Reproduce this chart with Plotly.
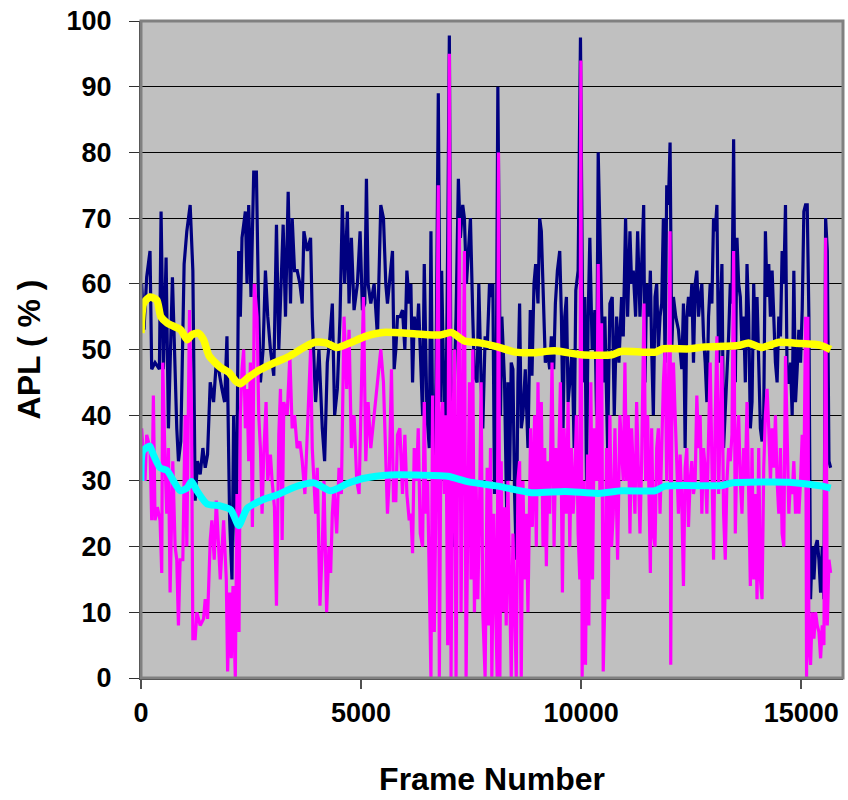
import plotly.graph_objects as go

# ---------------- data ----------------
navy_x = [0, 15, 68, 129, 205, 243, 319, 418, 456, 509, 570, 623, 714, 775, 813, 851, 904, 980, 1041, 1117,
          1178, 1231, 1284, 1345, 1406, 1459, 1512, 1573, 1649, 1710, 1763, 1839, 1900, 1953, 2014, 2067, 2105,
          2166, 2219, 2257, 2295, 2371, 2409, 2447, 2500, 2561, 2622, 2675, 2713, 2774, 2827, 2880, 2941, 3017,
          3078, 3131, 3230, 3283, 3344, 3397, 3435, 3488, 3549, 3610, 3663, 3701, 3777, 3853, 3891, 3967, 4043,
          4119, 4172, 4233, 4294, 4347, 4400, 4461, 4522, 4575, 4628, 4689, 4727, 4780, 4841, 4917, 4978, 5031,
          5084, 5122, 5160, 5221, 5297, 5373,
          5448, 5509, 5562, 5600, 5676, 5714, 5752, 5790, 5828, 5889, 5942, 5995, 6041, 6094, 6132, 6170, 6208,
          6269, 6307, 6360, 6398, 6436, 6497, 6550, 6588, 6626, 6664, 6702, 6755, 6801, 6831, 6892, 6930, 6968,
          7006, 7044, 7082, 7120, 7158, 7211, 7257, 7310, 7348, 7394, 7439, 7485, 7538, 7576, 7637, 7675, 7728,
          7766, 7819, 7865, 7918, 7956, 7994, 8032, 8070, 8108, 8169, 8199, 8260, 8313, 8336, 8374, 8412, 8450,
          8488, 8526, 8564, 8602, 8640, 8678, 8731, 8792, 8845, 8883, 8929, 8967, 9020, 9058, 9096, 9149, 9187,
          9233, 9286, 9324, 9377, 9415, 9461, 9514, 9552, 9590, 9628, 9666, 9704, 9742, 9795, 9841, 9879, 9932,
          9985, 10046, 10084, 10122, 10160, 10198, 10251, 10312, 10350, 10388, 10426, 10464, 10502, 10540, 10601,
          10654, 10707, 10753, 10806, 10859,
          10919, 10957, 11010, 11056, 11109, 11147, 11185, 11238, 11284, 11337, 11390, 11421, 11451, 11489, 11542,
          11573, 11603, 11641, 11679, 11717, 11755, 11793, 11831, 11869, 11907, 11945, 11983, 12021, 12059, 12097,
          12150, 12211, 12249, 12287, 12325, 12363, 12401, 12439, 12477, 12515, 12553, 12591, 12629, 12667, 12705,
          12743, 12781, 12819, 12857, 12895, 12933, 12971, 13009, 13047, 13085, 13123, 13161, 13199, 13237, 13275,
          13313, 13351, 13389, 13427, 13465, 13503, 13541, 13579, 13617, 13655, 13693, 13731, 13769, 13807, 13845,
          13883, 13921, 13959, 13997, 14035, 14073, 14111, 14149, 14187, 14225, 14263, 14301, 14339, 14377, 14415,
          14453, 14491, 14529, 14567, 14605, 14643, 14681, 14719, 14757, 14795, 14833, 14871, 14909, 14947, 14985,
          15023, 15061, 15099, 15137, 15175, 15213, 15251, 15289, 15327, 15365, 15403, 15441, 15479, 15517, 15555,
          15593, 15631, 15669]
navy_y = [55, 60, 53, 61, 65, 47, 48, 47, 71, 47, 64, 38, 61, 45, 38, 33, 36, 63, 68, 72,
          62, 27, 33, 31, 35, 32, 34, 45, 42, 48, 47, 44, 42, 52, 24, 15, 40,
          20, 65, 55, 67, 71, 60, 72, 58, 77, 77, 55, 45, 50, 62, 55, 50, 46,
          69, 50, 69, 55, 74, 57, 70, 62, 62, 60, 57, 68, 65, 67, 55, 42, 50,
          38, 33, 48, 52, 57, 40, 44, 55, 72, 60, 71, 57, 67, 56, 60, 68, 56,
          57, 76, 60, 57, 60, 52,
          72, 70, 60, 57, 62, 65, 47, 50, 55, 55, 56, 50, 62, 57, 60, 45, 55,
          52, 57, 45, 40, 63, 40, 35, 68, 38, 32, 45, 89, 42, 62, 40, 40, 66,
          97.8, 40, 20, 45, 55, 76, 67, 72, 70, 60, 65, 70, 55, 46, 45, 60, 45,
          38, 52, 50, 60, 58, 60, 28, 42, 90, 40, 55, 45, 23, 45, 30, 48, 47,
          28, 18, 45, 57, 38, 40, 47, 35, 56, 46, 60, 63, 57, 70, 68, 55, 48,
          50, 47, 52, 47, 57, 62, 65, 55, 38, 55, 58, 42, 45, 50, 35, 59, 62,
          97.5, 45, 58, 30, 55, 67, 50, 56, 40, 80, 67, 55, 45, 55, 35,
          57, 58, 40, 55, 48,
          58, 52, 70, 55, 68, 60, 62, 55, 68, 55, 67, 72, 45, 60, 55,
          62, 50, 40, 58, 60, 50, 55, 57, 70, 48, 75, 72, 81.5, 50, 58,
          55, 53, 50, 47, 57, 35, 55, 58, 55, 60, 48, 60, 62, 55, 58,
          60, 52, 48, 42, 55, 60, 57, 70, 68, 72, 48, 55, 63, 35, 40,
          45, 52, 60, 57, 82, 45, 67, 60, 58, 50, 55, 45, 63, 55, 38,
          42, 60, 50, 58, 45, 38, 36, 40, 68, 58, 63, 55, 62, 55, 48,
          45, 55, 52, 65, 60, 72, 45, 45, 48, 40, 62, 42, 47, 53, 48,
          56, 71, 72, 72, 55, 12, 20, 15, 20, 21, 18, 13, 20, 12, 70,
          65, 33, 32]

magenta_x = [0, 15, 91, 129, 205, 243, 281, 319, 372, 433, 471, 494, 547, 585, 623, 661, 722, 775, 813, 851,
             889, 950, 1003, 1041, 1102, 1148, 1178, 1231, 1269, 1345, 1421, 1459, 1512, 1573, 1611, 1664, 1710,
             1763, 1801, 1877, 1938, 1968, 2014, 2052, 2090, 2143, 2181, 2227, 2257, 2295, 2333, 2371, 2409, 2447,
             2485, 2531, 2576, 2637, 2675, 2713, 2751, 2789, 2842, 2880, 2941, 2979, 3032, 3078, 3131, 3169, 3207,
             3245, 3321, 3382, 3435, 3488, 3549, 3610, 3663, 3724, 3777, 3853, 3891, 3967, 4005, 4066, 4119, 4157,
             4218, 4271, 4309, 4347, 4385, 4446, 4499, 4552, 4613, 4674, 4727, 4780, 4841, 4902, 4955, 4993, 5054,
             5107, 5160, 5221, 5297, 5358,
             5448, 5509, 5562, 5600, 5638, 5691, 5737, 5790, 5828, 5881, 5942, 5995, 6041, 6094, 6132, 6170, 6208,
             6261, 6299, 6345, 6398, 6436, 6474, 6512, 6550, 6588, 6626, 6664, 6702, 6755, 6778, 6816, 6854, 6892,
             6930, 6968, 7006, 7044, 7082, 7120, 7158, 7196, 7234, 7272, 7310, 7348, 7386, 7424, 7462, 7500, 7538,
             7576, 7614, 7652, 7690, 7728, 7766, 7819, 7865, 7895, 7941, 7971, 8017, 8055, 8093, 8123, 8154, 8184,
             8222, 8260, 8298, 8336, 8374, 8412, 8450, 8488, 8526, 8564, 8602, 8640, 8678, 8716, 8754, 8792, 8853,
             8891, 8944, 8982, 9020, 9058, 9096, 9134, 9172, 9210, 9248, 9286, 9339, 9385, 9423, 9476, 9529, 9575,
             9613, 9666, 9704, 9742, 9780, 9818, 9856, 9894, 9932, 9970, 9993, 10023, 10061, 10099, 10145, 10175,
             10221, 10259, 10297, 10350, 10388, 10426, 10464, 10502, 10540, 10578, 10616, 10654, 10692, 10730,
             10768, 10829, 10882,
             10919, 10957, 10995, 11033, 11071, 11109, 11147, 11185, 11223, 11261, 11299, 11337, 11375, 11428,
             11466, 11512, 11542, 11573, 11603, 11641, 11679, 11717, 11755, 11793, 11831, 11869, 11907, 11945,
             11983, 12021, 12036, 12059, 12097, 12135, 12173, 12211, 12249, 12287, 12325, 12363, 12401, 12439,
             12477, 12515, 12553, 12591, 12629, 12667, 12705, 12743, 12781, 12819, 12857, 12895, 12933, 12971,
             13009, 13047, 13085, 13123, 13161, 13199, 13237, 13275, 13313, 13351, 13389, 13427, 13465, 13503,
             13541, 13579, 13617, 13655, 13693, 13731, 13769, 13807, 13845, 13883, 13921, 13959, 13997, 14035,
             14073, 14111, 14149, 14187, 14225, 14263, 14301, 14339, 14377, 14415, 14453, 14491, 14529, 14567,
             14605, 14643, 14681, 14719, 14757, 14795, 14833, 14871, 14909, 14947, 14985, 15023, 15061, 15099,
             15122, 15152, 15175, 15213, 15251, 15289, 15327, 15365, 15403, 15441, 15479, 15517, 15555, 15593,
             15631, 15669]
magenta_y = [33, 38, 30, 37, 35, 24, 43, 24, 26, 24, 16, 48, 33, 25, 35, 13, 33, 20, 18, 8,
             18, 18, 40, 20, 56, 40, 6, 6, 10, 8, 9, 12, 9, 21, 24, 18, 27,
             20, 15, 24, 15, 1, 13, 3, 14, 0, 28, 7, 40, 47, 50, 38, 44, 33,
             48, 23, 60, 55, 40, 35, 25, 34, 42, 30, 34, 30, 26, 11, 37, 44, 21,
             42, 40, 49, 38, 40, 35, 36, 33, 28, 38, 50, 35, 25, 32, 11, 20, 30,
             10, 20, 16, 25, 29, 22, 32, 28, 55, 44, 53, 35, 40, 30, 28, 42, 58,
             33, 42, 35, 40, 45,
             50, 45, 35, 25, 30, 47, 27, 27, 37, 38, 28, 37, 28, 24, 25, 19, 35,
             30, 38, 22, 20, 42, 25, 30, 15, 0, 43, 7, 28, 75, 0, 38, 42, 28,
             40, 5, 95, 0, 35, 50, 0, 40, 70, 10, 40, 65, 0, 20, 45, 15, 50,
             10, 30, 12, 25, 45, 10, 0, 32, 8, 35, 0, 25, 12, 0, 80, 0, 33,
             10, 26, 8, 30, 15, 0, 22, 10, 0, 30, 33, 0, 30, 15, 25, 10, 38,
             23, 40, 20, 45, 28, 42, 20, 35, 17, 33, 25, 48, 20, 35, 28, 45, 13,
             38, 25, 42, 20, 35, 25, 30, 40, 22, 15, 94, 0, 30, 2, 34, 8,
             45, 15, 38, 30, 63, 28, 54, 1, 12, 35, 12, 40, 20, 25,
             38, 18, 40,
             35, 30, 48, 30, 40, 22, 38, 32, 25, 42, 30, 22, 33, 57,
             30, 40, 28, 16, 38, 22, 20, 35, 38, 25, 35, 45, 50, 30,
             42, 68, 2, 38, 48, 40, 30, 25, 34, 27, 14, 32, 35, 23,
             30, 33, 28, 30, 43, 35, 40, 25, 35, 32, 25, 37, 48, 33,
             18, 40, 52, 28, 38, 49, 25, 18, 30, 35, 33, 37, 65, 22,
             35, 40, 30, 25, 35, 30, 42, 30, 14, 35, 15, 28, 12, 35,
             15, 12, 32, 40, 44, 38, 30, 38, 32, 40, 30, 25, 35, 22,
             20, 49, 38, 25, 30, 28, 33, 25, 30, 25, 30, 37, 30, 55,
             0, 55, 5, 2, 10, 6, 10, 8, 7, 3, 8, 5, 67, 8,
             18, 16]

yellow_x = [0, 60, 200, 360, 450, 600, 900, 1050, 1150, 1300, 1420, 1550, 1800, 2000, 2150, 2250, 2450, 2700,
            3000, 3350, 3700, 3950, 4200, 4450, 4750, 5100, 5500, 6200, 6800, 7050, 7350, 7700, 8100, 8500, 8900,
            9400, 10000, 10700, 10900, 11400, 11700, 11850, 12450, 12820, 13580, 13800, 14100, 14500, 15000,
            15300, 15500, 15669]
yellow_y = [52.5, 57, 58, 57.5, 55, 54, 53, 51.5, 52.2, 52.5, 51.5, 49, 47.3, 46.5, 45.2, 44.8, 45.8, 46.9,
            47.9, 48.9, 50.3, 51.1, 51, 50.3, 51, 52, 52.6, 52.4, 52.2, 52.6, 51.3, 51, 50.4, 49.6, 49.5,
            49.8, 49.2, 49.2, 49.7, 49.6, 49.6, 50.1, 50.1, 50.4, 50.6, 51, 50.3, 51.1, 50.9,
            50.8, 50.5, 50]

cyan_x = [0, 40, 200, 280, 430, 590, 890, 1040, 1150, 1270, 1500, 1800, 2040, 2220, 2410, 2790, 3100, 3550,
          3930, 4310, 4690, 5070, 5660, 6210, 6970, 7420, 8110, 8870, 9630, 10390, 10920, 11680, 11910, 13200,
          13430, 14720, 15480, 15669]
cyan_y = [30, 34.5, 35.3, 34, 32, 31.6, 28.5, 28.9, 29.9, 28.5, 26.5, 26.2, 25.6, 23.2, 25.8, 27.2, 27.9, 29.2,
          29.7, 28.5, 29.6, 30.4, 30.9, 30.9, 30.7, 29.9, 29.2, 28.2, 28.4, 28.1, 28.5, 28.5, 29.2, 29.3,
          29.7, 29.8, 29.2, 28.9]

x_ticks = [0, 5000, 10000, 15000]
y_ticks = [0, 10, 20, 30, 40, 50, 60, 70, 80, 90, 100]
x_title = "Frame Number"
y_title = "APL ( % )"

# ---------------- figure ----------------
FONT = "Liberation Sans, Arial, sans-serif"

fig = go.Figure()
fig.add_trace(go.Scatter(x=navy_x, y=navy_y, mode="lines",
                         line=dict(color="#000080", width=3.2), showlegend=False))
fig.add_trace(go.Scatter(x=magenta_x, y=magenta_y, mode="lines",
                         line=dict(color="#FF00FF", width=3.2), showlegend=False))
fig.add_trace(go.Scatter(x=yellow_x, y=yellow_y, mode="lines",
                         line=dict(color="#FFFF00", width=7.5, shape="spline", smoothing=0.6),
                         showlegend=False))
fig.add_trace(go.Scatter(x=cyan_x, y=cyan_y, mode="lines",
                         line=dict(color="#00FFFF", width=7, shape="spline", smoothing=0.6),
                         showlegend=False))

fig.update_layout(
    width=848, height=800,
    margin=dict(l=141, r=5, t=21, b=122),
    paper_bgcolor="white",
    plot_bgcolor="#C0C0C0",
    font=dict(family=FONT, color="black"),
    shapes=[dict(type="rect", xref="paper", yref="paper", x0=0, x1=1, y0=0, y1=1,
                 line=dict(color="#808080", width=3), layer="above")],
)
fig.update_xaxes(
    range=[0, 15950], tickvals=x_ticks, ticktext=[str(v) for v in x_ticks],
    showgrid=False, zeroline=False,
    showline=True, linecolor="#303030", linewidth=2,
    ticks="outside", ticklen=9, tickwidth=2, tickcolor="#505050",
    tickfont=dict(family=FONT, size=27, weight="bold"),
    ticklabelstandoff=1,
    title=dict(text=x_title, font=dict(family=FONT, size=32, weight="bold"), standoff=40),
)
fig.update_yaxes(
    range=[0, 100], tickvals=y_ticks,
    showgrid=True, gridcolor="black", gridwidth=1, zeroline=False,
    showline=True, linecolor="#303030", linewidth=2,
    ticks="outside", ticklen=10, tickwidth=1, tickcolor="#303030",
    tickfont=dict(family=FONT, size=27, weight="bold"),
    ticklabelstandoff=12,
    title=dict(text=y_title, font=dict(family=FONT, size=32, weight="bold"), standoff=16),
)

fig.write_html("out.html")
